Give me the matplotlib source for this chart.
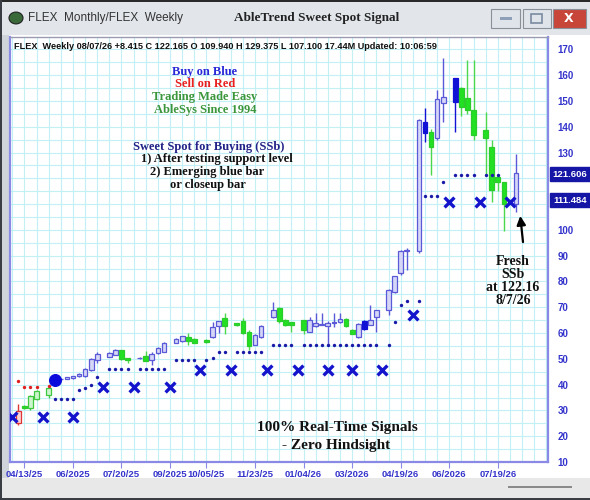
import matplotlib
matplotlib.use("Agg")
import matplotlib.pyplot as plt
import matplotlib.transforms as mtransforms
from matplotlib.patches import Rectangle, Circle

# weekly bars (slot index along the x axis)
weeks = [0, 1, 2, 3, 5, 7, 8, 9, 10, 11, 12, 13, 15, 16, 17, 18, 20, 21, 22, 23, 24,
         26, 27, 28, 29, 31, 32, 33, 34, 36, 37, 38, 39, 40, 42, 43, 44, 45, 47, 48,
         49, 50, 51, 52, 53, 54, 55, 56, 57, 58, 59, 61, 62, 63, 64, 66, 67, 68, 69,
         70, 72, 73, 74, 75, 77, 78, 79, 80, 82]
opens = [25.2, 31.7, 31.0, 34.5, 36.1, 42.0, 42.3, 42.6, 43.2, 43.3, 45.5, 49.7, 50.9,
         51.6, 53.3, 50.3, 50.2, 51.0, 49.5, 52.3, 52.8, 56.2, 56.8, 58.5, 57.7, 57.5,
         58.5, 62.8, 65.8, 63.8, 64.5, 60.3, 55.5, 58.5, 66.2, 69.7, 65.1, 64.1, 64.9,
         60.6, 62.6, 63.3, 62.6, 64.0, 64.1, 65.4, 61.3, 58.5, 64.5, 63.2, 66.4, 69.1,
         75.8, 83.3, 91.8, 92.0, 142.0, 138.1, 135.5, 149.3, 158.8, 154.9, 151.0, 146.5,
         138.8, 132.3, 120.7, 118.4, 109.94]
highs = [32.6, 32.0, 35.8, 38.0, 39.3, 42.6, 43.0, 43.5, 44.4, 46.3, 50.3, 52.6, 52.5,
         54.0, 53.6, 50.5, 50.6, 52.9, 52.5, 54.5, 56.5, 58.0, 59.0, 60.0, 58.0, 57.8,
         64.1, 64.8, 67.7, 64.0, 65.8, 61.0, 59.7, 63.0, 72.2, 70.0, 65.5, 64.3, 65.2,
         66.2, 67.7, 67.7, 64.5, 67.7, 67.7, 65.7, 61.6, 64.0, 65.0, 71.0, 69.0, 77.0,
         82.3, 92.3, 92.8, 143.0, 147.2, 139.0, 154.2, 166.5, 159.0, 155.5, 165.8, 165.8,
         145.9, 134.9, 121.5, 118.7, 129.375]
lows = [24.5, 30.5, 30.0, 34.0, 34.8, 41.8, 42.0, 42.3, 43.0, 43.0, 45.2, 48.4, 50.7,
        51.4, 49.4, 48.4, 50.0, 49.0, 47.7, 52.0, 52.5, 56.0, 56.5, 55.5, 56.0, 56.2,
        58.0, 60.0, 59.5, 62.7, 59.5, 53.6, 55.2, 58.2, 65.8, 64.0, 62.8, 60.6, 59.8,
        60.3, 62.3, 63.0, 55.5, 62.5, 63.8, 62.3, 59.5, 58.1, 61.2, 63.0, 60.6, 67.1,
        75.5, 82.5, 84.6, 91.0, 134.2, 121.3, 135.0, 142.0, 138.0, 144.0, 145.0, 134.9,
        121.3, 111.0, 115.0, 99.4, 107.1]
closes = [29.6, 30.8, 35.5, 37.5, 38.7, 42.3, 42.8, 43.2, 44.0, 46.0, 50.0, 52.0, 52.2,
          53.3, 50.0, 49.4, 50.4, 49.1, 52.0, 54.2, 56.1, 57.7, 58.7, 56.8, 56.2, 56.5,
          62.2, 64.5, 62.6, 63.0, 60.0, 55.0, 59.4, 62.6, 68.8, 64.5, 63.2, 63.2, 61.3,
          64.9, 63.9, 63.5, 63.9, 64.2, 65.4, 62.8, 59.7, 63.6, 61.6, 65.1, 68.8, 76.8,
          82.0, 92.0, 92.3, 142.5, 137.7, 132.3, 150.6, 151.6, 149.7, 147.8, 146.5, 136.8,
          135.5, 115.5, 118.4, 110.1, 122.165]
# bh blue hollow, bf blue filled, gf green filled, gh green hollow, rh red hollow
kinds = ['rh', 'gf', 'gh', 'gh', 'gh'] + ['bh'] * 9 + ['gf', 'gf', 'bh', 'gf', 'bh', 'bh',
         'bh', 'bh', 'bh', 'gf', 'gf', 'gf', 'bh', 'bh', 'gf', 'gf', 'gf', 'gf', 'bh', 'bh',
         'bh', 'gf', 'gf', 'gf', 'gf', 'bh', 'bh', 'bh', 'bh', 'bh', 'bh', 'gf', 'gf', 'bh',
         'bf', 'bh', 'bh', 'bh', 'bh', 'bh', 'bh', 'bh', 'bf', 'gf', 'bh', 'bh', 'bf', 'gf',
         'gf', 'gf', 'gf', 'gf', 'gf', 'gf', 'bh']

# sell stops (red) and buy stops (blue dots)
red_stop_k = [0, 1, 2, 3, 5]
red_stop_p = [41.3, 39.0, 39.0, 39.0, 39.3]
blue_stop_k = [6, 7, 8, 9, 10, 11, 12, 13, 15, 16, 17, 18, 20, 21, 22, 23, 24, 26, 27, 28,
               29, 31, 32, 33, 34, 36, 37, 38, 39, 40, 42, 43, 44, 45, 47, 48, 49, 50, 51,
               52, 53, 54, 55, 56, 57, 58, 59, 61, 62, 63, 64, 66, 67, 68, 69, 70, 72, 73,
               74, 75, 77, 78, 79]
blue_stop_p = [34.6, 34.6, 34.6, 34.6, 37.8, 38.7, 40.0, 43.0, 46.2, 46.2, 46.2, 46.2, 46.2,
               46.2, 46.2, 46.2, 46.2, 49.4, 49.4, 49.4, 49.4, 49.5, 50.3, 52.7, 52.7, 52.7,
               52.7, 52.7, 52.7, 52.7, 55.2, 55.2, 55.2, 55.2, 55.2, 55.2, 55.2, 55.2, 55.2,
               55.2, 55.2, 55.2, 55.2, 55.2, 55.2, 55.2, 55.2, 55.5, 64.1, 71.0, 72.6, 72.6,
               113.2, 113.2, 113.2, 118.4, 121.3, 121.3, 121.3, 121.3, 121.3, 121.3, 121.3]

# support marks (X)
x_mark_k = [-1, 4, 9, 14, 19, 25, 30, 35, 41, 46, 51, 55, 60, 65, 71, 76, 81]
x_mark_p = [27.3, 27.3, 27.3, 39.0, 39.0, 39.0, 45.5, 45.5, 45.5, 45.5, 45.5, 45.5, 45.5,
            67.1, 111.0, 111.0, 111.0]

ssb_k, ssb_p = 6, 41.9
price_boxes = [121.606, 111.484]

date_k = [1, 9, 17, 25, 31, 39, 47, 55, 63, 71, 79]
date_labels = ['04/13/25', '06/2025', '07/20/25', '09/2025', '10/05/25', '11/23/25',
               '01/04/26', '03/2026', '04/19/26', '06/2026', '07/19/26']
price_ticks = list(range(10, 171, 10))
# 110 and 120 sit under the last-value boxes
price_tick_labels = ['' if v in (110, 120) else str(v) for v in price_ticks]

W, H = 590, 500
fig = plt.figure(figsize=(5.9, 5.0), dpi=100)
fig.patch.set_facecolor('white')


def fx(x):
    return x / W


def fy(y):
    return 1 - y / H


# window chrome
fig.add_artist(Rectangle((0, fy(35)), 1, 35 / H, transform=fig.transFigure,
                         fc='#e2e6eb', ec='none', zorder=0))
fig.add_artist(Rectangle((0, fy(2)), 1, 2 / H, transform=fig.transFigure,
                         fc='#2a2a2a', ec='none', zorder=1))
fig.add_artist(Rectangle((0, 0), fx(9), fy(35), transform=fig.transFigure,
                         fc='#cfd4da', ec='none', zorder=0))
fig.add_artist(Rectangle((0, 0), fx(2), 1, transform=fig.transFigure,
                         fc='#3a3e44', ec='none', zorder=1))
fig.add_artist(Rectangle((0, 0), 1, 22 / H, transform=fig.transFigure,
                         fc='#e8e8e8', ec='none', zorder=0))
fig.add_artist(Rectangle((0, 0), 1, 2 / H, transform=fig.transFigure,
                         fc='#3a3e44', ec='none', zorder=1))
fig.add_artist(Rectangle((fx(508), fy(488)), fx(64), 2 / H, transform=fig.transFigure,
                         fc='#8a8a8a', ec='none', zorder=1))
for x0, w, c in [(491, 29, '#dfe4ea'), (523, 28, '#dfe4ea'), (553, 33, '#c8453a')]:
    fig.add_artist(Rectangle((fx(x0), fy(28)), fx(w), 19 / H, transform=fig.transFigure,
                             fc=c, ec='#8a9099', lw=0.8, zorder=1))
fig.add_artist(Rectangle((fx(500), fy(20)), fx(12), 3 / H, transform=fig.transFigure,
                         fc='#8ea0b8', ec='none', zorder=2))
fig.add_artist(Rectangle((fx(531), fy(23)), fx(11), 9 / H, transform=fig.transFigure,
                         fc='none', ec='#7a8aa0', lw=1.2, zorder=2))
fig.text(fx(569), fy(18), 'X', color='white', fontsize=9, fontweight='bold',
         ha='center', va='center', family='DejaVu Sans')
fig.add_artist(Circle((fx(16), fy(18)), 7 / W, transform=fig.transFigure,
                      fc='#3a6a3a', ec='#222', lw=0.8, zorder=2))
fig.text(fx(28), fy(18), 'FLEX  Monthly/FLEX  Weekly', fontsize=8.5, color='#333333',
         ha='left', va='center', family='Liberation Sans')
fig.text(fx(317), fy(18), 'AbleTrend Sweet Spot Signal', fontsize=9.5, fontweight='bold',
         color='#222222', ha='center', va='center', family='Liberation Serif')

ax = fig.add_axes([fx(10), fy(462), 538 / W, 425 / H])
ax.set_facecolor('white')
ax.set_xlim(-1.37, 87.27)
ax.set_ylim(10.2, 174.8)

# grid
ax.set_xticks(date_k)
ax.set_xticklabels(date_labels)
ax.set_xticks(list(range(-1, 88, 2)), minor=True)
ax.set_yticks(price_ticks)
ax.set_yticklabels(price_tick_labels)
ax.set_yticks(list(range(15, 175, 10)), minor=True)
ax.grid(which='both', color='#c2f0f5', lw=0.8)
ax.set_axisbelow(True)
ax.yaxis.tick_right()
ax.tick_params(axis='y', which='both', length=0, pad=7, labelsize=7, labelcolor='#3434cc')
ax.tick_params(axis='x', which='minor', length=0)
ax.tick_params(axis='x', which='major', length=4, color='#8a8ae6', pad=2,
               labelsize=6.8, labelcolor='#3434cc')
for lab in ax.get_xticklabels() + ax.get_yticklabels():
    lab.set_fontweight('bold')
    lab.set_family('Liberation Sans')
for side in ['left', 'right', 'bottom']:
    ax.spines[side].set_color('#8a8ae6')
    ax.spines[side].set_linewidth(1.6)
ax.spines['top'].set_color('#9a9ab0')
ax.spines['top'].set_linewidth(1.0)

# candles
face = {'bh': '#d6d6f7', 'bf': '#1212d6', 'gf': '#22e022', 'gh': '#cdf5cd', 'rh': '#f8d6d6'}
edge = {'bh': '#5a5ad8', 'bf': '#1212d6', 'gf': '#2ccc2c', 'gh': '#3fc83f', 'rh': '#e03434'}
wick = {'bh': '#5a5ad8', 'bf': '#1212d6', 'gf': '#4cd84c', 'gh': '#3fc83f', 'rh': '#e03434'}
for k, o, h, l, c, kd in zip(weeks, opens, highs, lows, closes, kinds):
    ax.vlines(k, l, h, color=wick[kd], lw=1.0, zorder=3)
    lo, hi = min(o, c), max(o, c)
    ax.bar(k, max(hi - lo, 0.3), bottom=lo, width=0.78, color=face[kd],
           edgecolor=edge[kd], linewidth=0.9, zorder=4)

# stops, marks and signal
ax.scatter(red_stop_k, red_stop_p, s=6, color='#e02020', marker='o', lw=0, zorder=5)
ax.scatter(blue_stop_k, blue_stop_p, s=6, color='#1a1aa8', marker='o', lw=0, zorder=5)
ax.scatter(x_mark_k, x_mark_p, s=50, color='#1414cc', marker='x', lw=2.4, zorder=6)
ax.scatter([ssb_k], [ssb_p], s=70, color='#0a0adc', zorder=6)

# last-value boxes on the price scale
blend = mtransforms.blended_transform_factory(ax.transAxes, ax.transData)
for p in price_boxes:
    ax.add_patch(Rectangle((1.003, p - 2.7), 0.075, 5.4, transform=blend, fc='#1616a6',
                           ec='#1616a6', clip_on=False, zorder=8))
    ax.text(1.0405, p, f'{p:.3f}', transform=blend, color='white', fontsize=6.8,
            fontweight='bold', ha='center', va='center', family='Liberation Sans',
            clip_on=False, zorder=9)


def at(x, y):
    return (x - 10) / 538, (462 - y) / 425


# header line
ax.text(*at(14, 46),
        'FLEX  Weekly 08/07/26 +8.415 C 122.165 O 109.940 H 129.375 L 107.100 '
        '17.44M Updated: 10:06:59', transform=ax.transAxes, fontsize=6.6,
        fontweight='bold', family='Liberation Sans', color='#111111', va='center',
        ha='left')

serif = 'Liberation Serif'
notes = [('Buy on Blue', 205, 72, '#2828d8'), ('Sell on Red', 205, 84, '#e82020'),
         ('Trading Made Easy', 205, 97, '#3c963c'), ('AbleSys Since 1994', 205, 110, '#3c963c'),
         ('Sweet Spot for Buying (SSb)', 209, 147, '#222288'),
         ('1) After testing support level', 217, 159, '#111111'),
         ('2) Emerging blue bar', 207, 172, '#111111'),
         ('or closeup bar', 208, 185, '#111111')]
for t, x, y, c in notes:
    ax.text(*at(x, y), t, transform=ax.transAxes, fontsize=9, fontweight='bold',
            family=serif, color=c, ha='center', va='center')

ax.text(*at(337, 428), '100% Real-Time Signals', transform=ax.transAxes, fontsize=11,
        fontweight='bold', family=serif, color='#111111', ha='center', va='center')
ax.text(*at(336, 445), '- Zero Hindsight', transform=ax.transAxes, fontsize=11,
        fontweight='bold', family=serif, color='#111111', ha='center', va='center')
ax.text(*at(513, 281), 'Fresh\nSSb\nat 122.16\n8/7/26', transform=ax.transAxes,
        fontsize=10, fontweight='bold', family=serif, color='#111111', ha='center',
        va='center', linespacing=1.0)

ax.annotate('', xy=(82.65, 106.5), xytext=(83.2, 94.2),
            arrowprops=dict(arrowstyle='-|>', color='black', lw=1.6, mutation_scale=13),
            zorder=7)

fig.savefig('out.png', dpi=100)
